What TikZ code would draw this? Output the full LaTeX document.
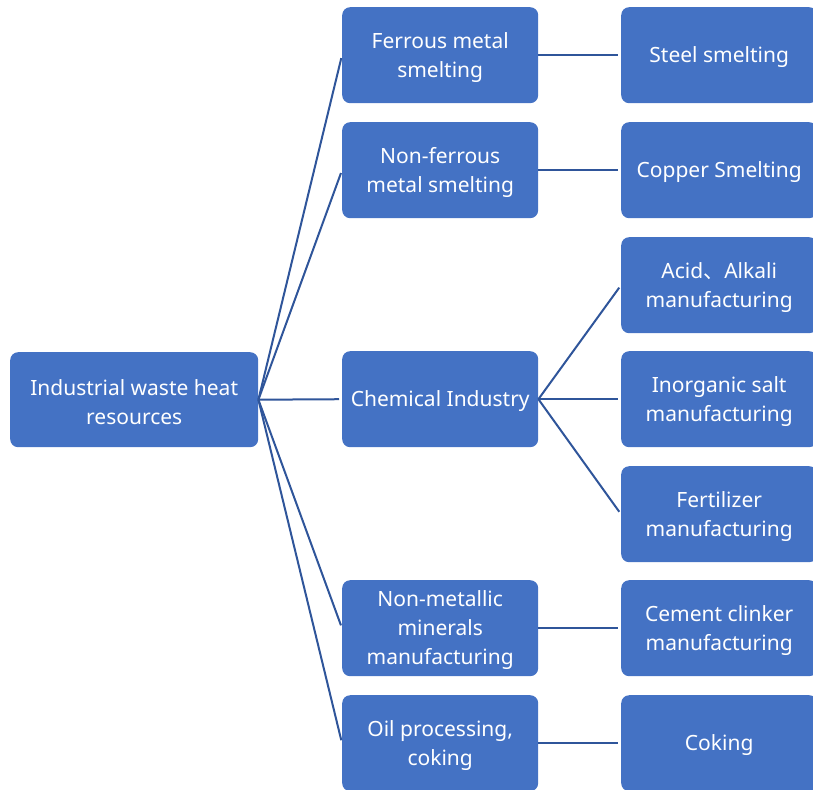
\documentclass[tikz,border=0pt]{standalone}
\usepackage{fontspec}
\setmainfont{Noto Sans}
\newfontfamily\cjk{Noto Sans CJK SC}
\begin{document}
\begin{tikzpicture}[x=1pt,y=-1pt,
  box/.style={fill=boxblue, rounded corners=8pt, inner sep=0pt, anchor=north west,
    minimum width=196pt, minimum height=96pt},
  txt/.style={text=white, align=center, inner sep=0pt,
    font=\fontsize{21}{29}\selectfont},
  link/.style={draw=lineblue, line width=2pt, shorten >=3pt}]
\definecolor{boxblue}{HTML}{4472C4}
\definecolor{lineblue}{HTML}{2F559A}
\useasboundingbox (0,0) rectangle (813,789);
\begin{scope}
\clip (0,0) rectangle (813,789);
\node[box, minimum width=248pt, minimum height=95pt] (root) at (10,352) {};
\node[box] (m1) at (342,7) {};
\node[box] (m2) at (342,122) {};
\node[box] (m3) at (342,351) {};
\node[box] (m4) at (342,580) {};
\node[box] (m5) at (342,695) {};
\node[box] (r1) at (621,7) {};
\node[box] (r2) at (621,122) {};
\node[box] (r3) at (621,237) {};
\node[box] (r4) at (621,351) {};
\node[box] (r5) at (621,466) {};
\node[box] (r6) at (621,580) {};
\node[box] (r7) at (621,695) {};
\end{scope}
\node[txt] (troot) at ([yshift=-2pt]root.center) {Industrial waste heat\\resources};
\node[txt] (tm1) at ([yshift=-2pt]m1.center) {Ferrous metal\\smelting};
\node[txt] (tm2) at ([yshift=-2pt]m2.center) {Non-ferrous\\metal smelting};
\node[txt] (tm3) at ([yshift=-2pt]m3.center) {Chemical Industry};
\node[txt] (tm4) at ([yshift=-2pt]m4.center) {Non-metallic\\minerals\\manufacturing};
\node[txt] (tm5) at ([yshift=-2pt]m5.center) {Oil processing,\\coking};
\node[txt] (tr1) at ([yshift=-2pt]r1.center) {Steel smelting};
\node[txt] (tr2) at ([yshift=-2pt]r2.center) {Copper Smelting};
\node[txt] (tr3) at ([yshift=-2pt]r3.center) {Acid{\cjk 、}Alkali\\manufacturing};
\node[txt] (tr4) at ([yshift=-2pt]r4.center) {Inorganic salt\\manufacturing};
\node[txt] (tr5) at ([yshift=-2pt]r5.center) {Fertilizer\\manufacturing};
\node[txt] (tr6) at ([yshift=-2pt]r6.center) {Cement clinker\\manufacturing};
\node[txt] (tr7) at ([yshift=-2pt]r7.center) {Coking};
\foreach \m in {m1,m2,m3,m4,m5} \draw[link] (root.east) -- (\m.west);
\draw[link] (m1.east) -- (r1.west);
\draw[link] (m2.east) -- (r2.west);
\draw[link] (m3.east) -- (r3.west);
\draw[link] (m3.east) -- (r4.west);
\draw[link] (m3.east) -- (r5.west);
\draw[link] (m4.east) -- (r6.west);
\draw[link] (m5.east) -- (r7.west);
\end{tikzpicture}
\end{document}
